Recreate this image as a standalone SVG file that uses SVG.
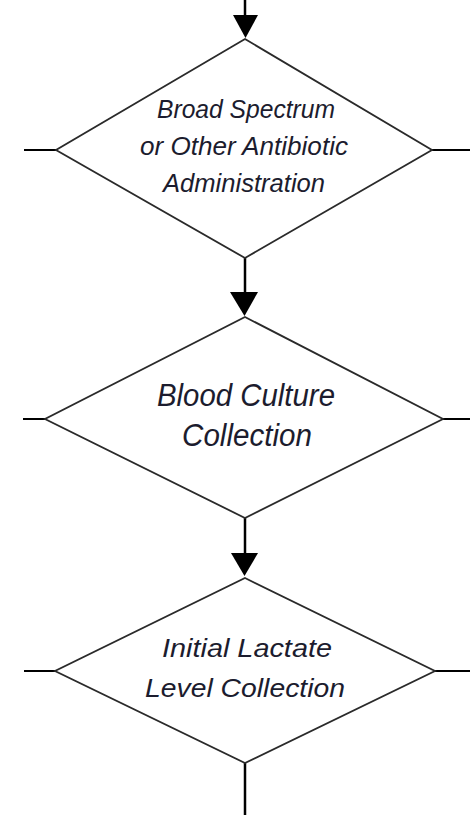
<svg xmlns="http://www.w3.org/2000/svg" width="470" height="815" viewBox="0 0 470 815">
<style>
.d{fill:#fff;stroke:#2a2a2a;stroke-width:1.8}
.c{stroke:#000;stroke-width:2.5;fill:none}
.s{stroke:#000;stroke-width:2;fill:none}
.h{fill:#000}
.t{font-family:"Liberation Sans",Arial,sans-serif;font-style:italic;fill:#1c1c2e;text-anchor:middle}
</style>
<rect width="470" height="815" fill="#fff"/>
<g id="connectors">
<line class="c" x1="245" y1="0" x2="245" y2="18"/>
<polygon class="h" points="233,15 258,15 245.5,38"/>
<line class="c" x1="245" y1="258" x2="245" y2="295"/>
<polygon class="h" points="230,292 258,292 244.5,316"/>
<line class="c" x1="245" y1="518" x2="245" y2="556"/>
<polygon class="h" points="231,553 258,553 244.5,576"/>
<line class="c" x1="245" y1="763" x2="245" y2="815"/>
<line class="s" x1="24" y1="150" x2="56" y2="150"/>
<line class="s" x1="432" y1="150" x2="470" y2="150"/>
<line class="s" x1="23" y1="419" x2="45" y2="419"/>
<line class="s" x1="443" y1="419" x2="470" y2="419"/>
<line class="s" x1="24" y1="671" x2="55" y2="671"/>
<line class="s" x1="435" y1="671" x2="470" y2="671"/>
</g>
<g id="antibiotic">
<polygon class="d" points="245,39 432,150 245,258 56,150"/>
<text class="t" font-size="26"><tspan x="246" y="118" textLength="178" lengthAdjust="spacingAndGlyphs">Broad Spectrum</tspan><tspan x="244" y="155" textLength="208" lengthAdjust="spacingAndGlyphs">or Other Antibiotic</tspan><tspan x="244" y="192" textLength="162" lengthAdjust="spacingAndGlyphs">Administration</tspan></text>
</g>
<g id="blood">
<polygon class="d" points="245,317 443,419 245,518 45,419"/>
<text class="t" font-size="31"><tspan x="246" y="406" textLength="178" lengthAdjust="spacingAndGlyphs">Blood Culture</tspan><tspan x="247" y="446" textLength="130" lengthAdjust="spacingAndGlyphs">Collection</tspan></text>
</g>
<g id="lactate">
<polygon class="d" points="245,578 435,671 245,763 55,671"/>
<text class="t" font-size="25"><tspan x="247" y="657" textLength="170" lengthAdjust="spacingAndGlyphs">Initial Lactate</tspan><tspan x="245" y="697" textLength="200" lengthAdjust="spacingAndGlyphs">Level Collection</tspan></text>
</g>
</svg>
